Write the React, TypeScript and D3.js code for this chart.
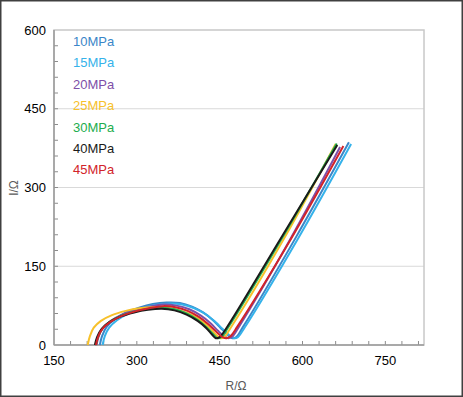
import React, { useEffect, useRef } from 'react';
import * as d3 from 'd3';

type Pt = [number, number];

const seriesNames = ['10MPa', '15MPa', '20MPa', '25MPa', '30MPa', '40MPa', '45MPa'];
const seriesColors = ['#3a86c8', '#35b2ea', '#7e4fa8', '#f7c12b', '#22ad4e', '#1a1a1a', '#d2232a'];

// R/Ω, I/Ω points
const p10: Pt[] = [[233,0],[237,17],[245,34],[259,48],[279,61],[304,71],[329,78],[354,81],[378,80],[400,73],[420,62],[438,47],[452,32],[464,20],[473,13],[480,15],[492,34],[588,205],[684,386]];
const p15: Pt[] = [[238,0],[242,17],[250,33],[264,47],[284,60],[309,70],[334,76],[359,79],[382,77],[404,70],[424,59],[441,45],[455,31],[467,19],[476,13],[483,15],[495,33],[592,203],[688,383]];
const p20: Pt[] = [[227,0],[231,17],[239,33],[253,46],[273,58],[298,67],[323,73],[348,77],[372,75],[395,68],[416,56],[433,42],[447,27],[458,17],[466,13],[473,16],[485,35],[576,198],[668,377]];
const p25: Pt[] = [[211,0],[215,17],[222,33],[235,46],[255,57],[280,65],[305,70],[330,72],[355,71],[378,66],[400,57],[418,45],[433,31],[445,18],[451,13],[458,15],[470,33],[565,200],[660,383]];
const p30: Pt[] = [[226,0],[230,16],[238,32],[252,45],[272,56],[297,64],[322,69],[345,71],[368,68],[390,60],[410,48],[426,34],[438,21],[446,13],[453,15],[465,33],[562,202],[662,384]];
const p40: Pt[] = [[224,0],[228,15],[236,30],[250,43],[270,54],[295,62],[320,67],[345,69],[368,66],[390,58],[410,46],[425,33],[436,20],[443,13],[450,15],[462,32],[560,202],[663,381]];
const p45: Pt[] = [[226,0],[230,16],[238,31],[252,44],[272,55],[297,64],[322,70],[347,74],[370,72],[392,65],[413,53],[430,39],[444,25],[455,15],[463,13],[470,17],[482,35],[578,200],[674,379]];

const allSeries = [p10, p15, p20, p25, p30, p40, p45];
const xTicks = [150, 300, 450, 600, 750];
const yTicks = [0, 150, 300, 450, 600];

const App: React.FC = () => {
  const ref = useRef<SVGSVGElement | null>(null);

  useEffect(() => {
    if (!ref.current) return;
    d3.select(ref.current).selectAll('*').remove();

    const W = 463;
    const H = 397;
    const left = 54, right = 424, top = 30, bottom = 345;
    const font = '"Liberation Sans", Arial, sans-serif';

    const svg = d3.select(ref.current).attr('width', W).attr('height', H);

    svg.append('rect').attr('width', W).attr('height', H).attr('fill', '#fff');

    const x = d3.scaleLinear().domain([150, 820]).range([left, right]);
    const y = d3.scaleLinear().domain([0, 600]).range([bottom, top]);

    // gridlines
    svg.selectAll('.grid').data(yTicks.slice(1, 4)).enter().append('line')
      .attr('x1', left).attr('x2', right)
      .attr('y1', (d) => y(d)).attr('y2', (d) => y(d))
      .attr('stroke', '#d9d9d9').attr('stroke-width', 1);

    // plot frame
    svg.append('rect').attr('x', left).attr('y', top)
      .attr('width', right - left).attr('height', bottom - top)
      .attr('fill', 'none').attr('stroke', '#c8c8c8').attr('stroke-width', 1.5);

    // minor ticks
    const minorX = d3.range(180, 820, 30);
    svg.selectAll('.mx').data(minorX).enter().append('line')
      .attr('x1', (d) => x(d)).attr('x2', (d) => x(d))
      .attr('y1', bottom).attr('y2', bottom - 4)
      .attr('stroke', '#8c8c8c');
    const minorY = d3.range(30, 600, 30);
    svg.selectAll('.my').data(minorY).enter().append('line')
      .attr('x1', left).attr('x2', left + 4)
      .attr('y1', (d) => y(d)).attr('y2', (d) => y(d))
      .attr('stroke', '#8c8c8c');

    // axes lines
    svg.append('line').attr('x1', left).attr('x2', right).attr('y1', bottom).attr('y2', bottom)
      .attr('stroke', '#9a9a9a').attr('stroke-width', 1.5);
    svg.append('line').attr('x1', left).attr('x2', left).attr('y1', top).attr('y2', bottom)
      .attr('stroke', '#9a9a9a').attr('stroke-width', 1.5);

    // tick labels
    svg.selectAll('.xl').data(xTicks).enter().append('text')
      .attr('x', (d) => x(d)).attr('y', 365)
      .attr('text-anchor', 'middle').attr('font-family', font).attr('font-size', 13)
      .attr('fill', '#000').text((d) => d);
    svg.selectAll('.yl').data(yTicks).enter().append('text')
      .attr('x', 46).attr('y', (d) => y(d) + 4.5)
      .attr('text-anchor', 'end').attr('font-family', font).attr('font-size', 13)
      .attr('fill', '#000').text((d) => d);

    // axis titles
    svg.append('text').attr('x', 236).attr('y', 390).attr('text-anchor', 'middle')
      .attr('font-family', font).attr('font-size', 12).attr('fill', '#595959').text('R/Ω');
    svg.append('text').attr('transform', 'translate(18,188) rotate(-90)').attr('text-anchor', 'middle')
      .attr('font-family', font).attr('font-size', 12).attr('fill', '#595959').text('I/Ω');

    // curves
    const line = d3.line<Pt>()
      .x((d) => x(d[0])).y((d) => y(d[1]))
      .curve(d3.curveCatmullRom.alpha(0.5));

    allSeries.forEach((pts, i) => {
      svg.append('path').datum(pts)
        .attr('d', line)
        .attr('fill', 'none')
        .attr('stroke', seriesColors[i])
        .attr('stroke-width', 2);
    });

    // legend
    seriesNames.forEach((name, i) => {
      svg.append('text').attr('x', 73).attr('y', 46 + i * 21.4)
        .attr('font-family', font).attr('font-size', 13)
        .attr('fill', seriesColors[i]).text(name);
    });

    // outer border
    svg.append('rect').attr('x', 0.75).attr('y', 0.75).attr('width', W - 1.5).attr('height', H - 1.5)
      .attr('fill', 'none').attr('stroke', '#404040').attr('stroke-width', 1.5);
  }, []);

  return (
    <svg ref={ref} style={{ position: 'absolute', left: 0, top: 0, display: 'block' }}></svg>
  );
};

export default App;
